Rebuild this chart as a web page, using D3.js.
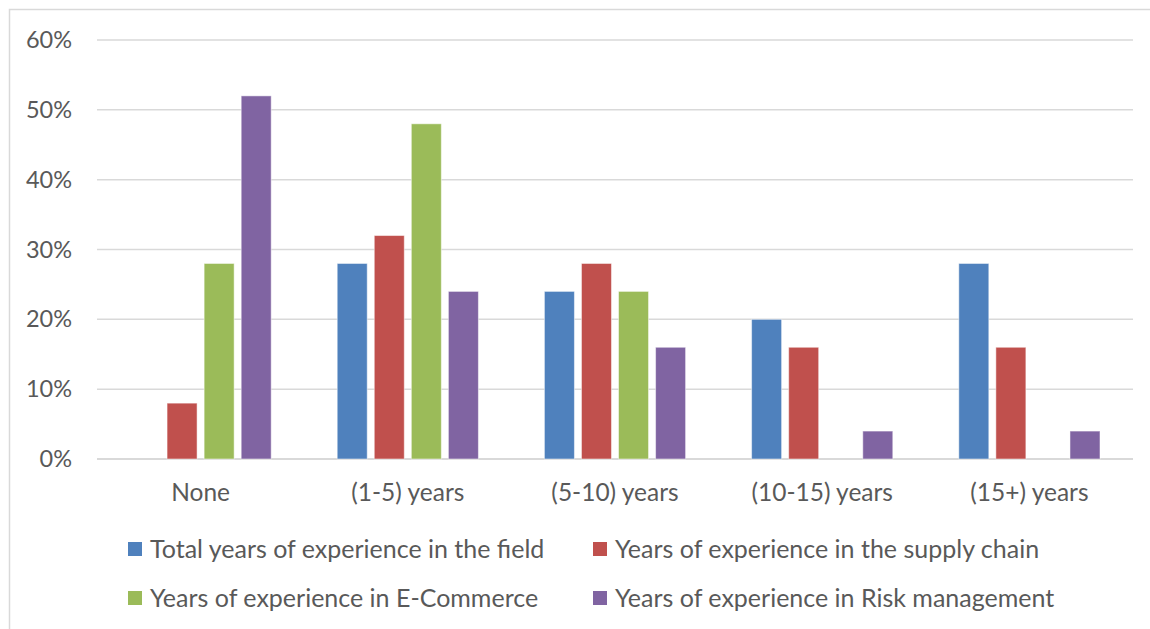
<!DOCTYPE html>
<html>
<head>
<meta charset="utf-8">
<script src="https://cdn.jsdelivr.net/npm/d3@7"></script>
<style>
  body { margin: 0; background: #fff; }
  text { font-family: Lato, "Open Sans", sans-serif; fill: #595959; }
</style>
</head>
<body>
<svg id="chart"></svg>
<script>
var categories = ['None', '(1-5) years', '(5-10) years', '(10-15) years', '(15+) years'];
var seriesNames = [
  'Total years of experience in the field',
  'Years of experience in the supply chain',
  'Years of experience in E-Commerce',
  'Years of experience in Risk management'
];
var totalField  = [0, 28, 24, 20, 28];
var supplyChain = [8, 32, 28, 16, 16];
var eCommerce   = [28, 48, 24, 0, 0];
var riskMgmt    = [52, 24, 16, 4, 4];
var yTicks = [0, 10, 20, 30, 40, 50, 60];
var colors = ['#4f81bd', '#c0504d', '#9bbb59', '#8064a2'];

var series = [totalField, supplyChain, eCommerce, riskMgmt];

var width = 1150, height = 629;
var margin = { top: 40, left: 97, right: 17, bottom: 170 };

var svg = d3.select('#chart')
            .attr('width', width)
            .attr('height', height);

// outer chart border
svg.append('rect')
   .attr('x', 9.5).attr('y', 9.5)
   .attr('width', width).attr('height', height)
   .attr('fill', 'none')
   .attr('stroke', '#d9d9d9')
   .attr('stroke-width', 1.5);

var plotW = width - margin.left - margin.right;
var plotH = height - margin.top - margin.bottom;

var g = svg.append('g')
           .attr('transform', 'translate(' + margin.left + ',' + margin.top + ')');

var x0 = d3.scaleBand()
           .domain(categories)
           .range([0, plotW]);

var x1 = d3.scaleBand()
           .domain(d3.range(series.length))
           .range([33, x0.bandwidth() - 33])
           .paddingInner(0.19);

var y = d3.scaleLinear()
          .domain([0, 60])
          .range([plotH, 0]);

// gridlines
g.selectAll('.grid')
 .data(yTicks)
 .enter()
 .append('line')
 .attr('class', 'grid')
 .attr('x1', 0).attr('x2', plotW)
 .attr('y1', function (d) { return y(d); })
 .attr('y2', function (d) { return y(d); })
 .attr('stroke', '#d9d9d9')
 .attr('stroke-width', function (d) { return d === 0 ? 2 : 1.5; });

// y axis labels
var yAxis = d3.axisLeft(y).tickValues(yTicks)
              .tickFormat(function (d) { return d + '%'; })
              .tickSize(0).tickPadding(25);
var ya = g.append('g').call(yAxis);
ya.select('.domain').remove();
ya.selectAll('text').style('font-size', '23.5px').attr('fill', '#595959');

// bars
categories.forEach(function (cat, ci) {
  var grp = g.append('g').attr('transform', 'translate(' + x0(cat) + ',0)');
  grp.selectAll('rect')
     .data(series.map(function (s, si) { return { si: si, v: s[ci] }; })
                 .filter(function (d) { return d.v > 0; }))
     .enter()
     .append('rect')
     .attr('x', function (d) { return x1(d.si); })
     .attr('width', x1.bandwidth())
     .attr('y', function (d) { return y(d.v); })
     .attr('height', function (d) { return y(0) - y(d.v); })
     .attr('fill', function (d) { return colors[d.si]; })
     .attr('stroke', '#fff')
     .attr('stroke-opacity', 0.5)
     .attr('stroke-width', 1);
});

// x axis labels
var xAxis = d3.axisBottom(x0).tickSize(0).tickPadding(25);
var xa = g.append('g').attr('transform', 'translate(0,' + plotH + ')').call(xAxis);
xa.select('.domain').remove();
xa.selectAll('text').style('font-size', '24.5px').attr('fill', '#595959');

// legend
var legendPos = [[128, 549], [593, 549], [128, 598], [593, 598]];
var legend = svg.selectAll('.legend')
                .data(seriesNames)
                .enter()
                .append('g')
                .attr('class', 'legend')
                .attr('transform', function (d, i) { return 'translate(' + legendPos[i][0] + ',' + legendPos[i][1] + ')'; });
legend.append('rect')
      .attr('x', 0).attr('y', -7)
      .attr('width', 14).attr('height', 14)
      .attr('fill', function (d, i) { return colors[i]; });
legend.append('text')
      .attr('x', 22).attr('y', 0)
      .attr('dy', '0.35em')
      .style('font-size', '25px')
      .text(function (d) { return d; });
</script>
</body>
</html>
